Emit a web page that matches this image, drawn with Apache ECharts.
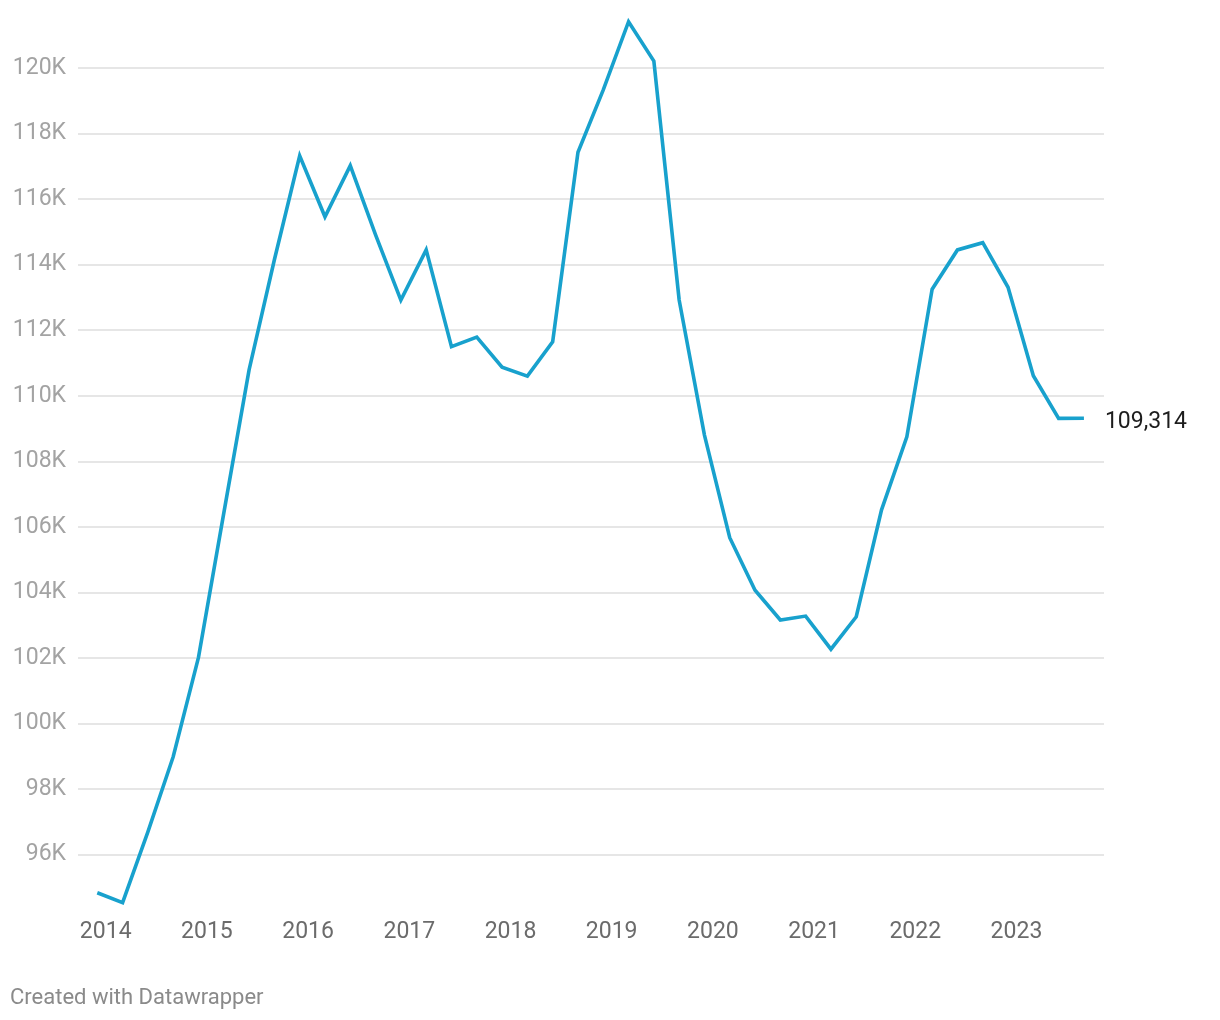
<!DOCTYPE html>
<html>
<head>
<meta charset="utf-8">
<script src="https://cdn.jsdelivr.net/npm/echarts@6/dist/echarts.min.js"></script>
<style>
  html, body { margin: 0; padding: 0; background: #ffffff; }
  #chart { width: 1220px; height: 1020px; }
</style>
</head>
<body>
<div id="chart"></div>
<script>
// Quarterly observations (year-month of each data point)
const dates = [
  '2013-12', '2014-03', '2014-06', '2014-09',
  '2014-12', '2015-03', '2015-06', '2015-09',
  '2015-12', '2016-03', '2016-06', '2016-09',
  '2016-12', '2017-03', '2017-06', '2017-09',
  '2017-12', '2018-03', '2018-06', '2018-09',
  '2018-12', '2019-03', '2019-06', '2019-09',
  '2019-12', '2020-03', '2020-06', '2020-09',
  '2020-12', '2021-03', '2021-06', '2021-09',
  '2021-12', '2022-03', '2022-06', '2022-09',
  '2022-12', '2023-03', '2023-06', '2023-09'
];
const values = [
  94840, 94540, 96700, 98990,
  102020, 106420, 110790, 114150,
  117320, 115460, 117020, 114910,
  112920, 114450, 111500, 111790,
  110870, 110600, 111650, 117430,
  119330, 121410, 120210, 112920,
  108800, 105670, 104070, 103160,
  103280, 102270, 103260, 106520,
  108750, 113250, 114450, 114670,
  113310, 110610, 109310, 109314
];
const xTickYears = [2014, 2015, 2016, 2017, 2018, 2019, 2020, 2021, 2022, 2023];
const yTickValues = [96000, 98000, 100000, 102000, 104000, 106000, 108000, 110000, 112000, 114000, 116000, 118000, 120000];
const footerText = 'Created with Datawrapper';

function toYear(d) {
  const p = d.split('-');
  return Number(p[0]) + (Number(p[1]) - 1) / 12;
}
const seriesData = dates.map((d, i) => [toYear(d), values[i]]);

const chart = echarts.init(document.getElementById('chart'), null, { renderer: 'canvas' });
const FONT = 'Roboto, "Noto Sans", sans-serif';

chart.setOption({
  animation: false,
  backgroundColor: '#ffffff',
  grid: { left: 78, right: 116, top: 2.4, bottom: 99.7, containLabel: false },
  xAxis: {
    type: 'value',
    min: 2013.726,
    max: 2023.865,
    axisLine: { show: false },
    axisTick: { show: false },
    splitLine: { show: false },
    axisLabel: {
      customValues: xTickYears,
      formatter: v => String(Math.round(v)),
      color: '#6b6b6b',
      fontFamily: FONT,
      fontSize: 23,
      margin: 0,
      showMinLabel: true,
      showMaxLabel: true
    }
  },
  yAxis: {
    type: 'value',
    min: 94000,
    max: 122000,
    interval: 2000,
    axisLine: { show: false },
    axisTick: { show: false },
    splitLine: {
      show: true,
      showMinLine: false,
      showMaxLine: false,
      lineStyle: { color: '#e6e6e6', width: 2 }
    },
    axisLabel: {
      showMinLabel: false,
      showMaxLabel: false,
      formatter: v => (yTickValues.indexOf(v) >= 0 ? (v / 1000) + 'K' : ''),
      color: '#a3a3a3',
      fontFamily: FONT,
      fontSize: 23,
      margin: 12
    }
  },
  series: [{
    type: 'line',
    data: seriesData,
    showSymbol: false,
    symbol: 'none',
    lineStyle: { color: '#18a1cd', width: 3.6, join: 'miter' },
    itemStyle: { color: '#18a1cd' },
    clip: false,
    endLabel: {
      show: true,
      formatter: p => p.value[1].toLocaleString('en-US'),
      color: '#1d1d1d',
      fontFamily: FONT,
      fontSize: 23,
      distance: 21,
      offset: [0, 4]
    }
  }],
  graphic: [{
    type: 'text',
    left: 10,
    top: 987,
    style: {
      text: footerText,
      fill: '#8a8a8a',
      font: '22px Roboto, "Noto Sans", sans-serif'
    }
  }]
});
</script>
</body>
</html>
